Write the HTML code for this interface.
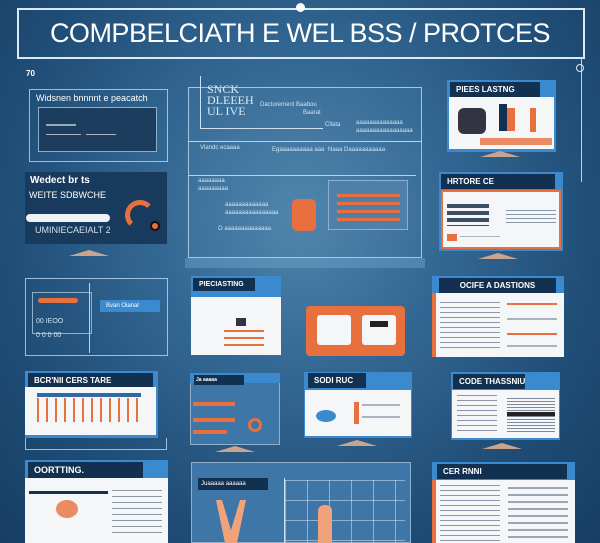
<!DOCTYPE html>
<html><head><meta charset="utf-8"><style>
*{margin:0;padding:0;box-sizing:border-box}
body{width:600px;height:543px;overflow:hidden;font-family:"Liberation Sans",sans-serif;
background:radial-gradient(ellipse at 50% 40%,#4f84ab 0%,#336793 35%,#1f4d76 70%,#173e64 100%);position:relative}
.a{position:absolute}
.ol{border:1px solid rgba(200,225,245,.75)}
.t{color:#fff;font-weight:bold;white-space:nowrap}
.hd{background:#12304f;color:#fff;font-weight:bold;font-size:8px;padding:3px 6px;white-space:nowrap}
.wh{background:#f4f6f8}
.ln{position:absolute;height:2px;background:#a9b4bf}
.or{position:absolute;background:#e8703f}
.st{position:absolute;width:0;height:0;border-left:20px solid transparent;border-right:20px solid transparent;border-bottom:6px solid #c9a58f}
.lt{color:#cfe3f3;font-size:6px;white-space:nowrap;position:absolute}
</style></head><body>
<!-- title -->
<div class="a ol" style="left:17px;top:8px;width:568px;height:51px;border-color:#dbe9f5;border-width:2px"></div>
<div class="a" style="left:296px;top:3px;width:9px;height:9px;border-radius:50%;background:#fff"></div>
<div class="a t" style="left:0;top:18px;width:600px;text-align:center;font-size:27px;font-weight:normal;letter-spacing:-0.5px">COMPBELCIATH E WEL BSS / PROTCES</div>
<div class="a" style="left:581px;top:58px;width:1px;height:124px;background:#bcd3e6"></div>
<div class="a" style="left:576px;top:64px;width:8px;height:8px;border-radius:50%;border:1px solid #dbe9f5"></div>
<div class="a t" style="left:26px;top:69px;font-size:8px">70</div>

<!-- left top outline -->
<div class="a ol" style="left:29px;top:89px;width:139px;height:73px"></div>
<div class="a" style="left:36px;top:93px;font-size:9px;color:#fff">Widsnen bnnnnt e peacatch</div>
<div class="a" style="left:38px;top:107px;width:119px;height:45px;background:#1c3d5e;border:1px solid #8fb0cc"></div>
<div class="ln" style="left:46px;top:124px;width:30px;background:#9ab"></div>
<div class="ln" style="left:46px;top:134px;width:35px;height:1px"></div>
<div class="ln" style="left:86px;top:134px;width:30px;height:1px"></div>

<!-- wedect panel -->
<div class="a" style="left:25px;top:172px;width:142px;height:72px;background:#183a5c"></div>
<div class="a t" style="left:30px;top:175px;font-size:10px">Wedect br ts</div>
<div class="a" style="left:29px;top:190px;font-size:9px;color:#fff">WEITE SDBWCHE</div>
<div class="a" style="left:26px;top:214px;width:84px;height:8px;background:#f0f3f6;border-radius:4px"></div>
<div class="a" style="left:35px;top:225px;font-size:9px;color:#cfe0ee">UMINIECAEIALT 2</div>
<div class="a" style="left:125px;top:200px;width:30px;height:30px;border-radius:50%;border:5px solid #e8703f;border-right-color:transparent;border-bottom-color:transparent"></div>
<div class="a" style="left:150px;top:221px;width:10px;height:10px;border-radius:50%;background:#e8703f;border:2px solid #111"></div>
<div class="st" style="left:69px;top:250px"></div>

<!-- center top big panel -->
<div class="a ol" style="left:188px;top:87px;width:234px;height:171px;background:rgba(90,140,180,.15)"></div>
<div class="a" style="left:188px;top:141px;width:234px;height:1px;background:#bcd3e6"></div>
<div class="a" style="left:188px;top:175px;width:228px;height:1px;background:#bcd3e6"></div>
<div class="a" style="left:200px;top:76px;width:1px;height:53px;background:#cfe0ee"></div>
<div class="a" style="left:200px;top:128px;width:123px;height:1px;background:#cfe0ee"></div>
<div class="a" style="left:207px;top:84px;font-size:12px;color:#dbe9f5;line-height:11px;font-family:'Liberation Serif',serif">SNCK<br>DLEEEH<br>UL IVE</div>
<div class="lt" style="left:260px;top:102px">Dacturement Baabou</div>
<div class="lt" style="left:303px;top:110px">Baarat</div>
<div class="lt" style="left:325px;top:122px">Cllata</div>
<div class="lt" style="left:356px;top:120px">aaaaaaaaaaaaaa</div>
<div class="lt" style="left:356px;top:128px">aaaaaaaaaaaaaaaaa</div>
<div class="lt" style="left:200px;top:145px">Vlandc ecaaaa</div>
<div class="lt" style="left:272px;top:147px">Egaaaaaaaaaa aaa</div>
<div class="lt" style="left:328px;top:147px">Naaa Daaaaaaaaaaa</div>
<div class="lt" style="left:198px;top:178px">aaaaaaaa</div>
<div class="lt" style="left:198px;top:186px">aaaaaaaaa</div>
<div class="lt" style="left:225px;top:202px">aaaaaaaaaaaaa</div>
<div class="lt" style="left:225px;top:210px">aaaaaaaaaaaaaaaa</div>
<div class="lt" style="left:218px;top:226px">O aaaaaaaaaaaaaa</div>
<div class="a" style="left:328px;top:180px;width:80px;height:50px;background:#4f80aa;border:1px solid #8fb0cc"></div>
<div class="or" style="left:337px;top:194px;width:63px;height:3px"></div>
<div class="or" style="left:337px;top:202px;width:63px;height:3px"></div>
<div class="or" style="left:337px;top:210px;width:63px;height:3px"></div>
<div class="or" style="left:337px;top:218px;width:63px;height:3px"></div>
<div class="a" style="left:292px;top:199px;width:24px;height:32px;background:#e8703f;border-radius:5px"></div>
<div class="a" style="left:185px;top:258px;width:240px;height:10px;background:rgba(120,170,210,.4)"></div>

<!-- right top monitor -->
<div class="a" style="left:447px;top:80px;width:109px;height:72px;background:#3b8ad0"></div>
<div class="a hd" style="left:450px;top:82px;width:90px">PIEES LASTNG</div>
<div class="a wh" style="left:449px;top:97px;width:105px;height:52px"></div>
<div class="a" style="left:458px;top:108px;width:28px;height:26px;border-radius:6px;background:#334"></div>
<div class="a" style="left:499px;top:104px;width:8px;height:27px;background:#12304f"></div>
<div class="a" style="left:507px;top:108px;width:8px;height:23px;background:#e8703f"></div>
<div class="a" style="left:530px;top:108px;width:6px;height:24px;background:#e8703f"></div>
<div class="or" style="left:480px;top:138px;width:72px;height:7px;opacity:.8"></div>
<div class="st" style="left:480px;top:151px"></div>

<!-- right 2 monitor -->
<div class="a" style="left:439px;top:172px;width:124px;height:79px;background:#3b8ad0"></div>
<div class="a hd" style="left:441px;top:174px;width:114px">HRTORE CE</div>
<div class="a wh" style="left:441px;top:190px;width:120px;height:59px;border:2px solid #e8703f"></div>
<div class="a" style="left:447px;top:204px;width:42px;height:22px;background:repeating-linear-gradient(#3a4f66 0 4px,transparent 4px 7px)"></div>
<div class="a" style="left:506px;top:210px;width:50px;height:16px;background:repeating-linear-gradient(#8899aa 0 1px,transparent 1px 4px)"></div>
<div class="or" style="left:447px;top:234px;width:10px;height:7px"></div>
<div class="ln" style="left:460px;top:236px;width:40px;height:1px"></div>
<div class="st" style="left:478px;top:253px"></div>

<!-- row A -->
<div class="a ol" style="left:25px;top:278px;width:143px;height:78px"></div>
<div class="a" style="left:32px;top:292px;width:60px;height:42px;border:1px solid #8fb0cc"></div>
<div class="or" style="left:38px;top:298px;width:40px;height:5px;border-radius:3px"></div>
<div class="a" style="left:100px;top:300px;width:60px;height:12px;background:#3b8ad0;font-size:6px;color:#fff;padding:3px 6px">Bvan Oianal</div>
<div class="lt" style="left:36px;top:318px;font-size:7px">00 IEOO</div>
<div class="lt" style="left:36px;top:332px;font-size:7px">0 0 0 00</div>
<div class="a" style="left:89px;top:283px;width:1px;height:70px;background:#bcd3e6"></div>

<div class="a" style="left:191px;top:276px;width:90px;height:79px;background:#3b8ad0"></div>
<div class="a hd" style="left:193px;top:278px;width:62px;font-size:7px">PIECIASTING</div>
<div class="a wh" style="left:191px;top:297px;width:90px;height:58px"></div>
<div class="a" style="left:236px;top:318px;width:10px;height:8px;background:#334"></div>
<div class="or" style="left:224px;top:330px;width:40px;height:2px"></div>
<div class="or" style="left:224px;top:337px;width:40px;height:2px"></div>
<div class="or" style="left:224px;top:344px;width:40px;height:2px"></div>

<div class="or" style="left:306px;top:306px;width:99px;height:50px;border-radius:4px"></div>
<div class="a wh" style="left:317px;top:315px;width:34px;height:30px;border-radius:3px"></div>
<div class="a wh" style="left:362px;top:315px;width:34px;height:30px;border-radius:3px"></div>
<div class="a" style="left:370px;top:321px;width:18px;height:6px;background:#222"></div>

<div class="a" style="left:432px;top:276px;width:132px;height:81px;background:#3b8ad0"></div>
<div class="a hd" style="left:439px;top:278px;width:117px;text-align:center">OCIFE A DASTIONS</div>
<div class="a wh" style="left:432px;top:293px;width:132px;height:64px;border-left:4px solid #e8703f"></div>
<div class="a" style="left:440px;top:302px;width:60px;height:48px;background:repeating-linear-gradient(#8a97a6 0 1px,transparent 1px 5px)"></div>
<div class="or" style="left:507px;top:303px;width:50px;height:2px"></div>
<div class="ln" style="left:507px;top:318px;width:50px"></div>
<div class="or" style="left:507px;top:333px;width:50px;height:2px"></div>
<div class="ln" style="left:507px;top:345px;width:50px"></div>

<!-- row B -->
<div class="a" style="left:25px;top:371px;width:133px;height:67px;background:#3b8ad0"></div>
<div class="a hd" style="left:28px;top:373px;width:125px">BCR'NII CERS TARE</div>
<div class="a wh" style="left:25px;top:387px;width:131px;height:48px"></div>
<div class="a" style="left:37px;top:393px;width:104px;height:4px;background:#2f6aa8"></div>
<div class="a" style="left:37px;top:398px;width:104px;height:24px;background:repeating-linear-gradient(90deg,#e8703f 0 2px,transparent 2px 9px)"></div>
<div class="a ol" style="left:25px;top:438px;width:142px;height:12px;border-top:none"></div>

<div class="a" style="left:190px;top:375px;width:90px;height:70px;background:#3e76a8;border:1px solid #8fb0cc"></div>
<div class="a" style="left:190px;top:373px;width:90px;height:10px;background:#3b8ad0"></div>
<div class="a hd" style="left:194px;top:375px;width:50px;font-size:5px;padding:2px">Ja aaaaa</div>
<div class="or" style="left:193px;top:402px;width:42px;height:4px"></div>
<div class="or" style="left:193px;top:418px;width:42px;height:4px"></div>
<div class="or" style="left:193px;top:430px;width:34px;height:4px"></div>
<div class="a" style="left:248px;top:418px;width:14px;height:14px;border-radius:50%;border:3px solid #e8703f"></div>
<div class="st" style="left:215px;top:446px"></div>

<div class="a" style="left:304px;top:372px;width:108px;height:66px;background:#3b8ad0"></div>
<div class="a hd" style="left:308px;top:373px;width:58px">SODI RUC</div>
<div class="a wh" style="left:305px;top:390px;width:106px;height:46px"></div>
<div class="a" style="left:316px;top:410px;width:20px;height:12px;border-radius:50%;background:#3b8ad0"></div>
<div class="or" style="left:354px;top:402px;width:5px;height:22px"></div>
<div class="ln" style="left:362px;top:404px;width:38px"></div>
<div class="ln" style="left:362px;top:416px;width:38px"></div>
<div class="st" style="left:337px;top:440px"></div>

<div class="a" style="left:451px;top:372px;width:109px;height:68px;background:#3b8ad0"></div>
<div class="a hd" style="left:453px;top:374px;width:72px">CODE THASSNIU</div>
<div class="a wh" style="left:452px;top:390px;width:107px;height:48px"></div>
<div class="a" style="left:457px;top:395px;width:40px;height:40px;background:repeating-linear-gradient(#8a97a6 0 1px,transparent 1px 5px)"></div>
<div class="a" style="left:507px;top:398px;width:48px;height:36px;background:repeating-linear-gradient(#7c8b9c 0 1px,transparent 1px 3px)"></div>
<div class="a" style="left:507px;top:412px;width:48px;height:4px;background:#222"></div>
<div class="st" style="left:482px;top:443px"></div>

<!-- row C -->
<div class="a" style="left:25px;top:460px;width:143px;height:83px;background:#3b8ad0"></div>
<div class="a hd" style="left:28px;top:462px;width:115px;font-size:9px">OORTTING.</div>
<div class="a wh" style="left:25px;top:478px;width:143px;height:65px"></div>
<div class="a" style="left:29px;top:491px;width:79px;height:3px;background:#12304f"></div>
<div class="a" style="left:112px;top:490px;width:50px;height:45px;background:repeating-linear-gradient(#8a97a6 0 1px,transparent 1px 6px)"></div>
<div class="a" style="left:56px;top:500px;width:22px;height:18px;border-radius:50%;background:#e8703f;opacity:.8"></div>

<div class="a" style="left:191px;top:462px;width:220px;height:81px;background:#3e76a8;border:1px solid #8fb0cc"></div>
<div class="a" style="left:198px;top:478px;width:70px;height:12px;background:#12304f;font-size:6px;color:#fff;padding:3px">Juaaaaa aaaaaa</div>
<div class="a" style="left:284px;top:478px;width:1px;height:65px;background:#cfe0ee"></div>
<div class="a" style="left:285px;top:480px;width:120px;height:63px;background:repeating-linear-gradient(90deg,rgba(220,235,250,.5) 0 1px,transparent 1px 22px),repeating-linear-gradient(rgba(220,235,250,.5) 0 1px,transparent 1px 20px)"></div>
<div class="a" style="left:216px;top:500px;width:30px;height:43px;background:#f0a27a;clip-path:polygon(0 0,20% 0,50% 70%,80% 0,100% 0,70% 100%,30% 100%)"></div>
<div class="a" style="left:318px;top:505px;width:14px;height:38px;background:#f0a27a;border-radius:6px 6px 0 0"></div>

<div class="a" style="left:432px;top:462px;width:143px;height:81px;background:#3b8ad0"></div>
<div class="a hd" style="left:437px;top:464px;width:130px">CER RNNI</div>
<div class="a wh" style="left:432px;top:480px;width:143px;height:63px;border-left:4px solid #e8703f"></div>
<div class="a" style="left:440px;top:485px;width:60px;height:58px;background:repeating-linear-gradient(#8a97a6 0 1px,transparent 1px 5px)"></div>
<div class="a" style="left:508px;top:487px;width:60px;height:56px;background:repeating-linear-gradient(#9aa6b3 0 2px,transparent 2px 7px)"></div>
</body></html>
